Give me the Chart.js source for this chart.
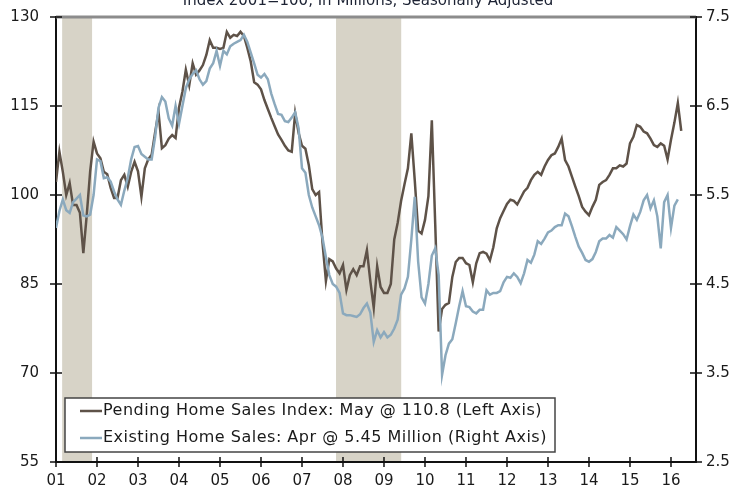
<!DOCTYPE html>
<html>
<head>
<meta charset="utf-8">
<script src="https://cdn.jsdelivr.net/npm/chart.js@4.4.1/dist/chart.umd.min.js"></script>
<style>
  html, body { margin: 0; padding: 0; background: #fff; }
  #wrap { width: 740px; height: 493px; }
</style>
</head>
<body>
<div id="wrap"><canvas id="chart" width="740" height="493"></canvas></div>
<script>
// monthly values, first value sits on the "01" tick
const startYear = 2001;
const yearTicks = [2001, 2002, 2003, 2004, 2005, 2006, 2007, 2008, 2009, 2010, 2011, 2012, 2013, 2014, 2015, 2016];
const leftTicks = [55, 70, 85, 100, 115, 130];
const rightTicks = [2.5, 3.5, 4.5, 5.5, 6.5, 7.5];

// Pending Home Sales Index (left axis)
const pendingIndex = [
  102.2, 107.3, 103.9, 100.0, 102.0, 98.3, 98.3, 97.0, 90.2, 96.6, 104.0, 109.0,
  107.0, 106.2, 103.9, 103.5, 101.2, 99.5, 99.5, 102.5, 103.4, 101.4, 103.9, 105.6,
  104.0, 99.7, 104.5, 106.0, 106.8, 110.5, 114.0, 107.9, 108.4, 109.5, 110.1, 109.6,
  114.7, 117.4, 121.1, 118.5, 122.2, 120.3, 121.0, 121.9, 123.6, 126.1, 124.8, 124.8,
  124.6, 124.8, 127.5, 126.5, 127.0, 126.8, 127.5, 126.8, 124.8, 122.5, 119.0, 118.6,
  117.8, 116.0, 114.5, 113.0, 111.6, 110.2, 109.3, 108.3, 107.5, 107.3, 113.8, 110.5,
  108.3, 107.8, 105.0, 101.0, 100.0, 100.5, 92.0, 85.5, 89.2, 88.8, 87.6, 86.8,
  88.2, 84.0, 86.5, 87.5, 86.5, 88.0, 88.0, 90.7, 85.5, 81.0, 88.0, 84.5,
  83.5, 83.5, 85.0, 92.5, 95.3, 99.0, 101.8, 104.5, 110.4, 102.5, 94.0, 93.5,
  95.8, 99.8, 112.6, 95.0, 77.0, 80.8, 81.5, 81.8, 86.2, 88.7, 89.4, 89.4,
  88.5, 88.2, 85.3, 88.5, 90.2, 90.4, 90.1, 89.0, 91.2, 94.4, 96.1, 97.3,
  98.5, 99.2, 99.0, 98.4, 99.5, 100.6, 101.2, 102.5, 103.4, 103.9, 103.4, 104.8,
  105.9, 106.7, 107.0, 108.1, 109.5, 105.9, 104.8, 103.1, 101.4, 99.8, 98.0, 97.2,
  96.6, 98.0, 99.2, 101.7, 102.2, 102.5, 103.4, 104.5, 104.5, 105.0, 104.8, 105.3,
  108.7, 109.8, 111.8, 111.5, 110.7, 110.4, 109.5, 108.4, 108.1, 108.7, 108.3, 106.0,
  109.3, 112.2, 115.5, 110.8
];

// Existing Home Sales, millions (right axis)
const existingSales = [
  5.13, 5.32, 5.45, 5.33, 5.30, 5.42, 5.46, 5.50, 5.27, 5.26, 5.28, 5.50,
  5.90, 5.88, 5.69, 5.70, 5.65, 5.54, 5.45, 5.39, 5.55, 5.69, 5.90, 6.04,
  6.05, 5.96, 5.93, 5.90, 5.90, 6.15, 6.48, 6.60, 6.55, 6.36, 6.28, 6.50,
  6.30, 6.50, 6.70, 6.80, 6.86, 6.90, 6.80, 6.74, 6.78, 6.92, 6.98, 7.12,
  6.95, 7.12, 7.08, 7.17, 7.20, 7.22, 7.24, 7.30, 7.22, 7.10, 6.98, 6.85,
  6.82, 6.86, 6.80, 6.64, 6.52, 6.41, 6.40, 6.33, 6.32, 6.37, 6.43, 6.25,
  5.80, 5.75, 5.50, 5.36, 5.26, 5.16, 5.02, 4.80, 4.60, 4.50, 4.47, 4.40,
  4.17, 4.15, 4.15, 4.14, 4.13, 4.16, 4.23, 4.28, 4.18, 3.85, 3.98, 3.90,
  3.96, 3.90, 3.93, 4.00, 4.10, 4.38, 4.45, 4.58, 5.00, 5.48, 4.75, 4.35,
  4.28, 4.50, 4.82, 4.90, 4.60, 3.48, 3.70, 3.83, 3.88, 4.06, 4.25, 4.42,
  4.25, 4.24, 4.19, 4.17, 4.21, 4.21, 4.43, 4.38, 4.40, 4.40, 4.42, 4.52,
  4.58, 4.57, 4.62, 4.58, 4.51, 4.62, 4.77, 4.74, 4.83, 4.98, 4.95, 5.01,
  5.08, 5.10, 5.14, 5.16, 5.16, 5.29, 5.26, 5.15, 5.03, 4.92, 4.85, 4.77,
  4.75, 4.78, 4.86, 4.98, 5.01, 5.01, 5.05, 5.02, 5.14, 5.10, 5.06, 5.00,
  5.15, 5.28, 5.22, 5.31, 5.44, 5.50, 5.35, 5.44, 5.26, 4.90, 5.42, 5.50,
  5.13, 5.38, 5.45
];

// recession shading, in fractional years
const recessions = [[2001.15, 2001.88], [2007.83, 2009.42]];

const subtitle = 'Index 2001=100, In Millions, Seasonally Adjusted';
const legendLabels = [
  'Pending Home Sales Index: May @ 110.8 (Left Axis)',
  'Existing Home Sales: Apr @ 5.45 Million (Right Axis)'
];

const brown = '#5e5248';
const blue = '#8ba9bd';
const FONT = '"DejaVu Sans", "Liberation Sans", sans-serif';

const toPoints = arr => arr.map((v, i) => ({ x: startYear + i / 12, y: v }));

// keep the plot box fixed: no extra room for overhanging labels
const noOverhang = s => { s.paddingTop = 0; s.paddingBottom = 0; s.paddingLeft = 0; s.paddingRight = 0; };

const recessionBands = {
  id: 'recessionBands',
  beforeDatasetsDraw(chart) {
    const { ctx, chartArea: a, scales: { x } } = chart;
    ctx.save();
    ctx.fillStyle = '#d7d3c7';
    recessions.forEach(([s, e]) => {
      const x0 = x.getPixelForValue(s);
      const x1 = x.getPixelForValue(e);
      ctx.fillRect(x0, a.top + 1, x1 - x0, a.bottom - a.top - 2);
    });
    ctx.restore();
  }
};

const frameAndLegend = {
  id: 'frameAndLegend',
  afterDraw(chart) {
    const { ctx, chartArea: a, scales: { x, y, y1 } } = chart;
    ctx.save();

    // grey top rule
    ctx.strokeStyle = '#8c8c8c';
    ctx.lineWidth = 3;
    ctx.beginPath();
    ctx.moveTo(a.left, a.top);
    ctx.lineTo(a.right, a.top);
    ctx.stroke();

    // crossing tick marks
    ctx.strokeStyle = '#111';
    ctx.lineWidth = 1.5;
    ctx.beginPath();
    x.ticks.forEach(t => {
      const px = x.getPixelForValue(t.value);
      ctx.moveTo(px, a.bottom - 5);
      ctx.lineTo(px, a.bottom + 5);
    });
    y.ticks.forEach(t => {
      const py = y.getPixelForValue(t.value);
      ctx.moveTo(a.left - 6, py);
      ctx.lineTo(a.left + 6, py);
    });
    y1.ticks.forEach(t => {
      const py = y1.getPixelForValue(t.value);
      ctx.moveTo(a.right - 6, py);
      ctx.lineTo(a.right + 6, py);
    });
    ctx.stroke();

    // subtitle, cut off at the top edge
    ctx.fillStyle = '#1c2233';
    ctx.font = '15px ' + FONT;
    ctx.textAlign = 'center';
    ctx.textBaseline = 'alphabetic';
    ctx.fillText(subtitle, 368, 5);

    // legend box
    const bx = 65, by = 398, bw = 490, bh = 54;
    ctx.fillStyle = '#fff';
    ctx.fillRect(bx, by, bw, bh);
    ctx.strokeStyle = '#444';
    ctx.lineWidth = 1.5;
    ctx.strokeRect(bx, by, bw, bh);

    ctx.textAlign = 'left';
    ctx.textBaseline = 'middle';
    ctx.font = '16px ' + FONT;
    ctx.letterSpacing = '0.5px';
    [brown, blue].forEach((c, k) => {
      const ly = by + 13 + k * 27;
      ctx.strokeStyle = c;
      ctx.lineWidth = 2.5;
      ctx.beginPath();
      ctx.moveTo(80, ly);
      ctx.lineTo(102, ly);
      ctx.stroke();
      ctx.fillStyle = '#1a1a1a';
      ctx.fillText(legendLabels[k], 103, ly);
    });

    ctx.restore();
  }
};

new Chart(document.getElementById('chart'), {
  type: 'line',
  data: {
    datasets: [
      {
        label: legendLabels[1],
        data: toPoints(existingSales),
        yAxisID: 'y1',
        borderColor: blue,
        borderWidth: 2.5,
        pointRadius: 0,
        tension: 0
      },
      {
        label: legendLabels[0],
        data: toPoints(pendingIndex),
        yAxisID: 'y',
        borderColor: brown,
        borderWidth: 2.5,
        pointRadius: 0,
        tension: 0
      }
    ]
  },
  options: {
    responsive: false,
    animation: false,
    layout: { padding: { top: 17, left: 0, right: 0, bottom: 0 } },
    plugins: {
      legend: { display: false },
      tooltip: { enabled: false },
      title: { display: false }
    },
    scales: {
      x: {
        type: 'linear',
        min: 2001,
        max: 2016.61,
        afterBuildTicks: s => { s.ticks = yearTicks.map(v => ({ value: v })); },
        afterFit: s => { s.height = 31; noOverhang(s); },
        grid: { display: false, drawTicks: false },
        border: { display: true, color: '#111', width: 2 },
        ticks: {
          autoSkip: false,
          maxRotation: 0,
          padding: 10,
          color: '#1a1a1a',
          font: { family: FONT, size: 15 },
          callback: v => String(v % 100).padStart(2, '0')
        }
      },
      y: {
        position: 'left',
        min: 55,
        max: 130,
        afterBuildTicks: s => { s.ticks = leftTicks.map(v => ({ value: v })); },
        afterFit: s => { s.width = 56; noOverhang(s); },
        grid: { display: false, drawTicks: false },
        border: { display: true, color: '#111', width: 2 },
        ticks: {
          padding: 17,
          color: '#1a1a1a',
          font: { family: FONT, size: 15 }
        }
      },
      y1: {
        position: 'right',
        min: 2.5,
        max: 7.5,
        afterBuildTicks: s => { s.ticks = rightTicks.map(v => ({ value: v })); },
        afterFit: s => { s.width = 44; noOverhang(s); },
        grid: { display: false, drawTicks: false },
        border: { display: true, color: '#111', width: 2 },
        ticks: {
          padding: 10,
          color: '#1a1a1a',
          font: { family: FONT, size: 15 },
          callback: v => v.toFixed(1)
        }
      }
    }
  },
  plugins: [recessionBands, frameAndLegend]
});
</script>
</body>
</html>
